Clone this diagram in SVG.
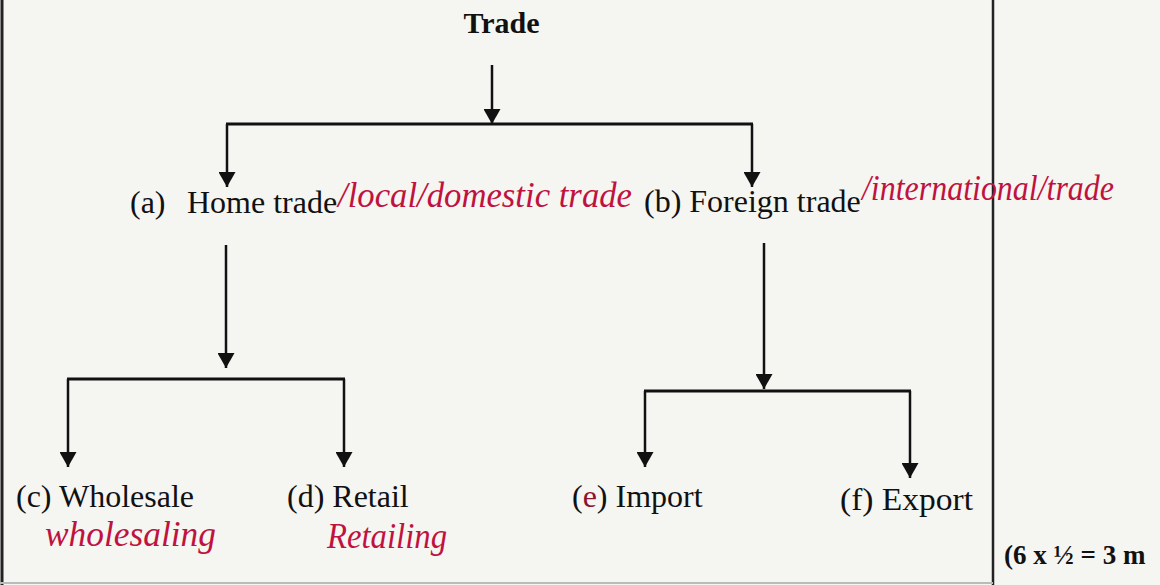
<svg xmlns="http://www.w3.org/2000/svg" width="1160" height="585" viewBox="0 0 1160 585">
  <style>
    .lbl { font-family: "Liberation Serif", "Times New Roman", serif; font-size: 32px; fill: #111; }
    .title { font-weight: bold; font-size: 30px; }
    .marks { font-weight: bold; font-size: 27px; }
    .hand { font-family: "Liberation Serif", serif; font-style: italic; font-size: 36px; fill: #c0123e; }
    .conn { stroke: #111; stroke-width: 2.5; fill: none; }
    .bar { stroke: #111; stroke-width: 3; fill: none; }
  </style>
  <defs>
    <marker id="arr" markerUnits="userSpaceOnUse" markerWidth="16" markerHeight="17" refX="15" refY="8.5" orient="auto">
      <path d="M0,0 L15,8.5 L0,17 z" fill="#111"/>
    </marker>
  </defs>

  <rect x="0" y="0" width="1160" height="585" fill="#f5f5f2"/>

  <g id="page-frame">
    <line x1="2" y1="0" x2="2" y2="585" stroke="#222" stroke-width="3"/>
    <line x1="993" y1="0" x2="993" y2="585" stroke="#222" stroke-width="2.5"/>
    <line x1="0" y1="583" x2="993" y2="583" stroke="#bbb" stroke-width="2"/>
  </g>

  <g id="connectors">
    <path class="conn" d="M492,65 V124" marker-end="url(#arr)"/>
    <path class="bar" d="M226,124 H753"/>
    <path class="conn" d="M227,124 V187" marker-end="url(#arr)"/>
    <path class="conn" d="M752,124 V187" marker-end="url(#arr)"/>

    <path class="conn" d="M226,245 V368" marker-end="url(#arr)"/>
    <path class="bar" d="M67,379 H345"/>
    <path class="conn" d="M68,379 V467" marker-end="url(#arr)"/>
    <path class="conn" d="M344,379 V467" marker-end="url(#arr)"/>

    <path class="conn" d="M764,243 V389" marker-end="url(#arr)"/>
    <path class="bar" d="M644,391 H911"/>
    <path class="conn" d="M645,391 V467" marker-end="url(#arr)"/>
    <path class="conn" d="M910,391 V478" marker-end="url(#arr)"/>
  </g>

  <g id="trade">
    <text class="lbl title" x="501.5" y="33" text-anchor="middle">Trade</text>
  </g>
  <g id="home-trade">
    <text class="lbl" x="130" y="213">(a)<tspan x="187">Home trade</tspan></text>
  </g>
  <g id="foreign-trade">
    <text class="lbl" x="644" y="212">(b) Foreign trade</text>
  </g>
  <g id="wholesale">
    <text class="lbl" x="16" y="507">(c) Wholesale</text>
  </g>
  <g id="retail">
    <text class="lbl" x="287" y="507">(d) Retail</text>
  </g>
  <g id="import">
    <text class="lbl" x="572" y="507">(<tspan fill="#8a1530">e</tspan>) Import</text>
  </g>
  <g id="export">
    <text class="lbl" x="840" y="510" textLength="133" lengthAdjust="spacingAndGlyphs">(f) Export</text>
  </g>
  <g id="marks">
    <text class="lbl marks" x="1004" y="564">(6 x ½ = 3 m</text>
  </g>

  <g id="annotations">
    <text class="hand" x="338" y="207" textLength="294" lengthAdjust="spacingAndGlyphs">/local/domestic trade</text>
    <text class="hand" x="862" y="200" textLength="252" lengthAdjust="spacingAndGlyphs">/international/trade</text>
    <text class="hand" x="45" y="546" textLength="171" lengthAdjust="spacingAndGlyphs">wholesaling</text>
    <text class="hand" x="327" y="548" textLength="120" lengthAdjust="spacingAndGlyphs">Retailing</text>
  </g>
</svg>
